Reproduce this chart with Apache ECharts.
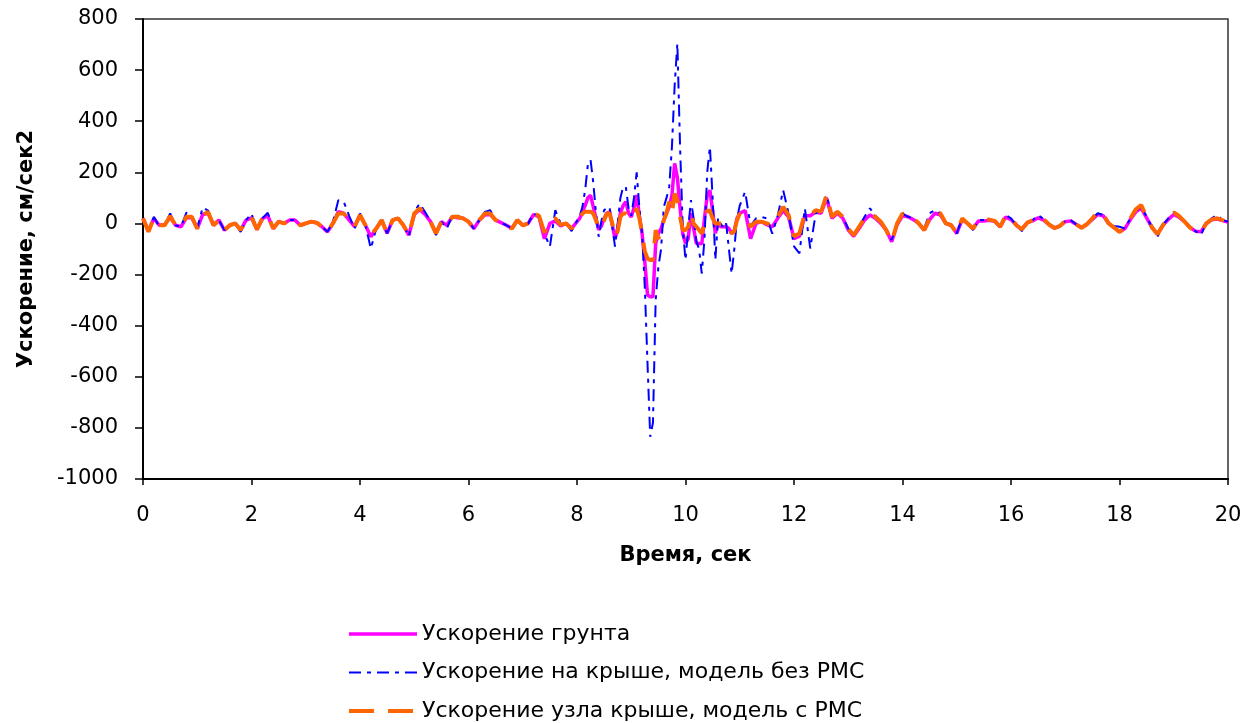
<!DOCTYPE html>
<html>
<head>
<meta charset="utf-8">
<script src="https://cdn.jsdelivr.net/npm/echarts@6/dist/echarts.min.js"></script>
<style>
  html, body { margin: 0; padding: 0; background: #fff; }
  #chart { width: 1256px; height: 723px; }
</style>
</head>
<body>
<div id="chart"></div>
<script>
// время, сек (шаг 0.1, в середине записи 0.05)
const timeSec = [
  0,0.1,0.2,0.3,0.4,0.5,0.6,0.7,0.8,0.9,
  1,1.1,1.2,1.3,1.4,1.5,1.6,1.7,1.8,1.9,
  2,2.1,2.2,2.3,2.4,2.5,2.6,2.7,2.8,2.9,
  3,3.1,3.2,3.3,3.4,3.5,3.6,3.7,3.8,3.9,
  4,4.1,4.2,4.3,4.4,4.5,4.6,4.7,4.8,4.9,
  5,5.1,5.2,5.3,5.4,5.5,5.6,5.7,5.8,5.9,
  6,6.1,6.2,6.3,6.4,6.5,6.6,6.7,6.8,6.9,
  7,7.1,7.2,7.3,7.4,7.5,7.6,7.7,7.8,7.9,
  8,8.05,8.1,8.15,8.2,8.25,8.3,8.35,8.4,8.45,8.5,8.55,8.6,8.65,8.7,8.75,8.8,8.85,8.9,8.95,
  9,9.05,9.1,9.15,9.2,9.25,9.3,9.35,9.4,9.45,9.5,9.55,9.6,9.65,9.7,9.75,9.8,9.85,9.9,9.95,
  10,10.05,10.1,10.15,10.2,10.25,10.3,10.35,10.4,10.45,10.5,10.55,10.6,10.65,10.7,10.75,10.8,10.85,10.9,10.95,
  11,11.1,11.2,11.3,11.4,11.5,11.6,11.7,11.8,11.9,
  12,12.1,12.2,12.3,12.4,12.5,12.6,12.7,12.8,12.9,
  13,13.1,13.2,13.3,13.4,13.5,13.6,13.7,13.8,13.9,
  14,14.1,14.2,14.3,14.4,14.5,14.6,14.7,14.8,14.9,
  15,15.1,15.2,15.3,15.4,15.5,15.6,15.7,15.8,15.9,
  16,16.1,16.2,16.3,16.4,16.5,16.6,16.7,16.8,16.9,
  17,17.1,17.2,17.3,17.4,17.5,17.6,17.7,17.8,17.9,
  18,18.1,18.2,18.3,18.4,18.5,18.6,18.7,18.8,18.9,
  19,19.1,19.2,19.3,19.4,19.5,19.6,19.7,19.8,19.9,
  20
];

// Ускорение грунта
const groundAcc = [
  20,-30,20,-7,-5,25,-7,-13,22,22,
  -20,35,40,-7,13,-26,-7,0,-26,13,
  22,-24,18,30,-20,7,0,13,13,-7,
  0,7,3,-13,-33,0,46,40,13,-13,
  33,-7,-52,-20,13,-39,13,20,-7,-46,
  35,55,35,7,-39,7,-7,26,22,20,
  7,-20,13,33,35,13,3,-7,-20,13,
  -7,0,35,26,-60,0,10,-10,0,-20,
  7,20,45,70,100,110,65,20,-25,-10,20,40,45,-5,-60,-20,40,70,85,40,
  25,60,111,30,-40,-150,-280,-287,-287,-80,-40,-20,13,40,65,110,235,180,60,-40,
  -78,-60,40,-20,-78,-78,-80,20,110,130,50,-39,0,-13,-13,-13,-20,-39,-30,20,
  40,50,-60,0,7,-5,-13,20,50,26,
  -60,-50,30,30,45,40,100,20,40,20,
  -26,-50,-20,13,33,20,0,-26,-72,-5,
  30,26,15,0,-26,15,40,33,0,-7,
  -39,15,0,-20,10,10,12,8,-13,25,
  15,-7,-23,3,10,22,13,-4,-18,-10,
  7,10,-3,-17,-3,16,35,30,0,-16,
  -33,-20,15,45,60,22,-16,-42,-7,16,
  35,24,7,-16,-30,-33,0,14,17,11,
  5
];

// Ускорение на крыше, модель без РМС
const roofNoRms = [
  20,-35,26,-13,-7,39,-7,-13,42,30,
  -20,63,50,-7,13,-26,-7,0,-33,13,
  39,-24,20,42,-20,7,0,13,13,-7,
  0,7,3,-13,-33,5,91,85,30,-20,
  39,-7,-98,-20,13,-39,13,20,-7,-50,
  45,78,45,7,-46,7,-20,30,30,20,
  7,-20,13,45,52,13,3,-7,-20,13,
  -7,0,39,26,-40,-91,52,0,0,-30,
  10,30,65,130,230,248,160,40,-52,10,52,60,65,-10,-91,0,100,143,143,60,
  30,100,200,60,-39,-250,-550,-835,-780,-300,-170,-100,65,100,143,300,540,704,300,-20,
  -143,-20,91,20,-70,-100,-196,-60,200,300,100,-143,20,0,-20,0,-100,-196,-100,20,
  70,124,-10,20,25,20,-40,30,130,40,
  -90,-117,59,-98,40,50,110,30,50,26,
  -20,-46,-13,26,59,30,7,-20,-65,0,
  39,26,20,0,-20,40,52,39,0,-10,
  -39,20,0,-26,13,13,15,10,-13,33,
  20,-7,-30,3,13,33,17,-4,-18,-10,
  10,13,-3,-17,-3,20,40,33,0,-10,
  -13,-20,20,50,65,26,-16,-52,-7,20,
  40,29,7,-16,-30,-46,0,20,33,13,
  7
];

// Ускорение узла крыше, модель с РМС
const roofWithRms = [
  20,-33,22,-7,-7,29,-7,-13,26,26,
  -20,33,45,-7,13,-26,-7,0,-26,13,
  26,-24,20,33,-20,7,0,13,13,-7,
  0,7,3,-13,-33,0,39,39,13,-13,
  33,-7,-46,-20,13,-39,13,20,-7,-46,
  39,59,39,7,-39,7,-7,26,26,20,
  7,-20,13,39,39,13,3,-7,-20,13,
  -7,0,39,30,-36,10,20,-5,0,-20,
  7,20,39,46,46,46,39,13,-20,-5,13,39,40,0,-52,-30,26,39,39,26,
  20,30,59,20,-39,-110,-137,-143,-143,-26,-60,-30,13,40,85,40,117,90,26,-26,
  -26,-13,39,0,-13,-26,-39,0,50,50,20,0,0,0,0,0,-13,-39,-30,13,
  39,30,-13,7,7,0,-7,26,65,33,
  -50,-39,39,33,52,46,111,26,46,26,
  -20,-46,-13,20,39,26,7,-26,-72,0,
  39,26,20,0,-26,20,46,39,0,-7,
  -39,20,0,-20,13,13,15,10,-13,30,
  20,-7,-23,3,13,29,17,-4,-18,-10,
  10,13,-3,-17,-3,20,46,37,0,-16,
  -33,-20,20,55,72,26,-16,-42,-7,20,
  43,29,7,-16,-30,-33,0,16,20,13,
  7
];

const seriesNames = [
  'Ускорение грунта',
  'Ускорение на крыше, модель без РМС',
  'Ускорение узла крыше, модель с РМС'
];

const xTicks = { min: 0, max: 20, step: 2 };
const yTicks = { min: -1000, max: 800, step: 200 };

const font = "'DejaVu Sans', Verdana, sans-serif";
const pairs = vals => timeSec.map((t, i) => [t, vals[i]]);

const chart = echarts.init(document.getElementById('chart'), null, { renderer: 'canvas' });

const option = {
  animation: false,
  backgroundColor: '#fff',
  grid: {
    left: 143, right: 28, top: 19, bottom: 244,
    show: true, borderColor: '#333', borderWidth: 1.5
  },
  legend: {
    orient: 'vertical',
    left: 347, top: 622,
    padding: 0,
    itemWidth: 68, itemHeight: 24, itemGap: 14.5,
    itemStyle: { opacity: 0 },
    textStyle: { fontFamily: font, fontSize: 22, lineHeight: 24, color: '#000' },
    data: [
      { name: seriesNames[0], lineStyle: { width: 3.5 } },
      { name: seriesNames[1], lineStyle: { width: 2 } },
      { name: seriesNames[2], lineStyle: { width: 4 } }
    ]
  },
  xAxis: {
    type: 'value',
    min: xTicks.min, max: xTicks.max, interval: xTicks.step,
    name: 'Время, сек',
    nameLocation: 'middle',
    nameGap: 66,
    nameTextStyle: { fontFamily: font, fontSize: 21, fontWeight: 'bold', color: '#000' },
    axisLine: { onZero: false, lineStyle: { color: '#000', width: 2 } },
    axisTick: { length: 6, lineStyle: { color: '#000', width: 1.5 } },
    axisLabel: { margin: 26, fontFamily: font, fontSize: 21, color: '#000' },
    splitLine: { show: false }
  },
  yAxis: {
    type: 'value',
    min: yTicks.min, max: yTicks.max, interval: yTicks.step,
    name: 'Ускорение, см/сек2',
    nameLocation: 'middle',
    nameRotate: 90,
    nameGap: 106,
    nameTextStyle: { fontFamily: font, fontSize: 21, fontWeight: 'bold', color: '#000' },
    axisLine: { onZero: false, lineStyle: { color: '#000', width: 2 } },
    axisTick: { length: 8, lineStyle: { color: '#000', width: 1.5 } },
    axisLabel: {
      margin: 25, fontFamily: font, fontSize: 21, color: '#000',
      formatter: v => String(v)
    },
    splitLine: { show: false }
  },
  series: [
    {
      name: seriesNames[0],
      type: 'line',
      data: pairs(groundAcc),
      symbol: 'none',
      color: '#ff00ff',
      lineStyle: { color: '#ff00ff', width: 3.5 }
    },
    {
      name: seriesNames[1],
      type: 'line',
      data: pairs(roofNoRms),
      symbol: 'none',
      color: '#0000ff',
      lineStyle: { color: '#0000ff', width: 2, type: [12, 6, 4, 6] }
    },
    {
      name: seriesNames[2],
      type: 'line',
      data: pairs(roofWithRms),
      symbol: 'none',
      color: '#ff6600',
      lineStyle: { color: '#ff6600', width: 4, type: [25, 14] }
    }
  ]
};

chart.setOption(option);
</script>
</body>
</html>
